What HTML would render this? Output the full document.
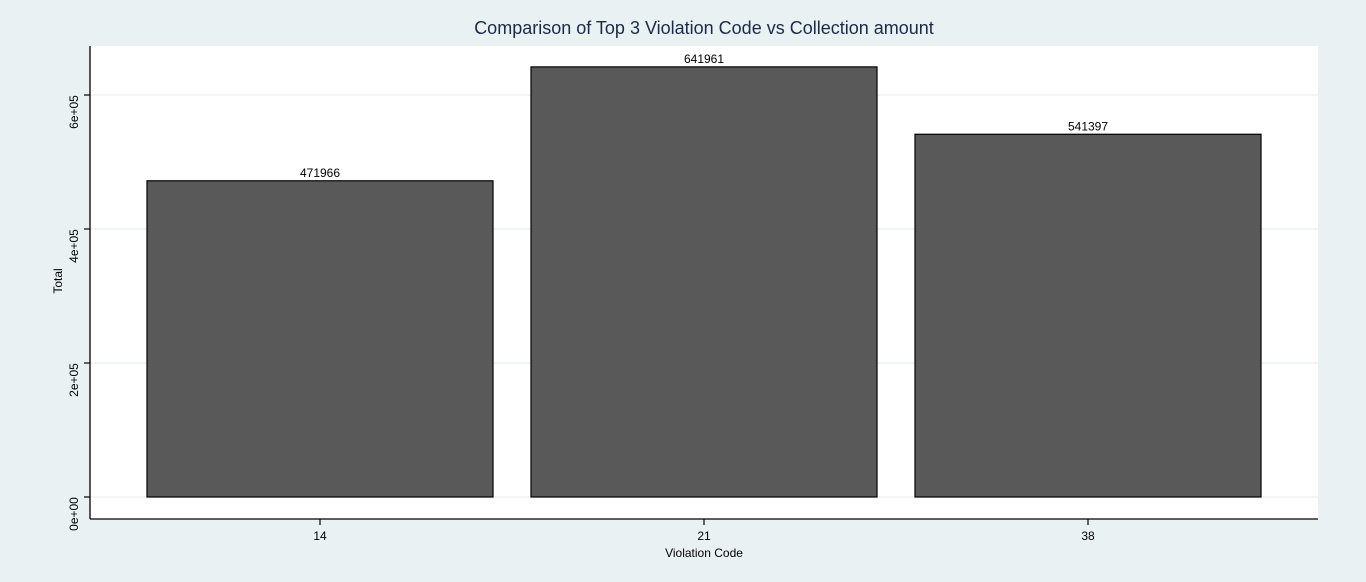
<!DOCTYPE html>
<html><head><meta charset="utf-8"><style>
body{margin:0;background:#eaf1f3;}
svg{display:block;font-family:"Liberation Sans",sans-serif;}
</style></head><body>
<svg id="c" width="1366" height="582">
<rect x="0" y="0" width="1366" height="582" fill="#eaf1f3"/>
<rect x="90" y="46" width="1228" height="473" fill="#ffffff"/>
<text x="704" y="34" text-anchor="middle" font-size="18" fill="#1a2a4a">Comparison of Top 3 Violation Code vs Collection amount</text>
<g id="grid"></g>
<g id="bars"></g>
<line x1="90" y1="46" x2="90" y2="519" stroke="#000" stroke-width="1.3"/>
<line x1="90" y1="519" x2="1318" y2="519" stroke="#000" stroke-width="1.3"/>
<text transform="translate(62,281) rotate(-90)" text-anchor="middle" font-size="12">Total</text>
<text x="704" y="557" text-anchor="middle" font-size="12">Violation Code</text>
</svg>
<script>
const categories = ["14","21","38"];
const values = [471966,641961,541397];
const yTicks = [0,200000,400000,600000];
const yTickLabels = ["0e+00","2e+05","4e+05","6e+05"];
const ns="http://www.w3.org/2000/svg";
function y(v){return 497 - v*(134/200000);}
function xc(i){return 320 + i*384;}
const grid=document.getElementById('grid'), bars=document.getElementById('bars');
function mk(tag,attrs,parent){const e=document.createElementNS(ns,tag);for(const k in attrs)e.setAttribute(k,attrs[k]);parent.appendChild(e);return e;}
yTicks.forEach((t,i)=>{
  const g=mk('line',{x1:90,x2:1318,y1:y(t),y2:y(t),stroke:'#eef2f3','stroke-width':1.5},grid);
  
  
  const tk=mk('line',{x1:84,x2:90,y1:y(t),y2:y(t),stroke:'#000','stroke-width':1.2},grid);
  
  
  const tl=mk('text',{transform:`translate(78,${y(t)+17}) rotate(-90)`,'text-anchor':'middle','font-size':12},grid);
  tl.textContent=yTickLabels[i];
  
  
});
categories.forEach((c,i)=>{
  const b=mk('rect',{x:xc(i)-173,y:y(values[i]),width:346,height:y(0)-y(values[i]),fill:'#595959',stroke:'#000','stroke-width':1.2},bars);
  
  
  const v=mk('text',{x:xc(i),y:y(values[i])-4,'text-anchor':'middle','font-size':12},bars);
  v.textContent=values[i];
  
  
  const tk=mk('line',{x1:xc(i),x2:xc(i),y1:519,y2:525,stroke:'#000','stroke-width':1.2},bars);
  
  
  const tl=mk('text',{x:xc(i),y:540,'text-anchor':'middle','font-size':12},bars);
  tl.textContent=c;
  
  
});
</script>
</body></html>
